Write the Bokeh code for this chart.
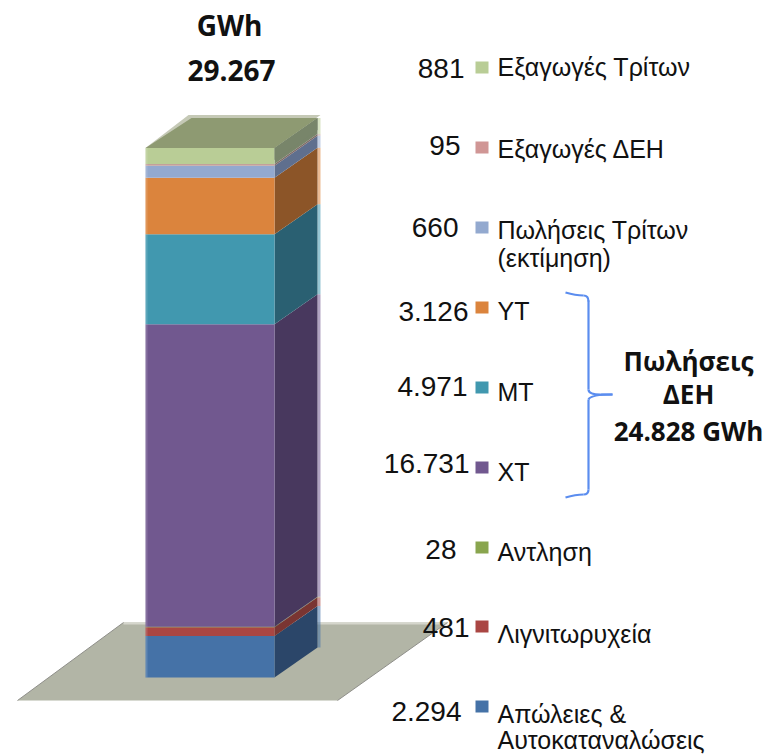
from bokeh.plotting import figure
from bokeh.models import Range1d
from bokeh.core.properties import value
from bokeh.embed import file_html
from bokeh.resources import INLINE

# --- data ---
series_values = [2294, 481, 28, 16731, 4971, 3126, 660, 95, 881]
series_names = ["Απώλειες & Αυτοκαταναλώσεις", "Λιγνιτωρυχεία", "Αντληση", "ΧΤ", "ΜΤ", "ΥΤ",
                "Πωλήσεις Τρίτων (εκτίμηση)", "Εξαγωγές ΔΕΗ", "Εξαγωγές Τρίτων"]
value_labels = ["2.294", "481", "28", "16.731", "4.971", "3.126", "660", "95", "881"]
total_label = "29.267"
unit_label = "GWh"
group_lines = ["Πωλήσεις", "ΔΕΗ", "24.828 GWh"]

# --- styling and layout (page pixels) ---
front_colors = ["#4572a7", "#aa4643", "#89a54e", "#71588f", "#4198af", "#db843d", "#93a9cf", "#c3a09a", "#b9cd96"]
swatch_colors = ["#4572a7", "#aa4643", "#89a54e", "#71588f", "#4198af", "#db843d", "#93a9cf", "#d09695", "#b9cd96"]
side_colors = ["#2b4669", "#7a3532", "#5a6b36", "#48385e", "#2a6072", "#8c5528", "#5f6f8e", "#7f6a66", "#78856a"]
W, H = 765, 754
PX_LEFT, PX_TOP = 0, 0
BASE_PX, PX_PER_GWH = 677.0, 0.01809
BAR_L, BAR_R = 145, 274
DX, DY = 43, 30
BACK_L = 188

def y_gwh(px):
    return (BASE_PX - px) / PX_PER_GWH

p = figure(width=W, height=H, output_backend="svg", toolbar_location=None,
           x_range=Range1d(PX_LEFT, PX_LEFT + W),
           y_range=Range1d(y_gwh(PX_TOP + H), y_gwh(PX_TOP)),
           min_border=0, outline_line_color=None, background_fill_color="white")
p.xaxis.visible = False
p.yaxis.visible = False
p.grid.visible = False
p.extra_y_ranges = {"px": Range1d(PX_TOP + H, PX_TOP)}

# floor
p.patch([17, 123, 447, 337], [700, 622, 622, 700], y_range_name="px", fill_color="#b2b5a6", line_color=None)
p.line([123, 447], [623, 623], y_range_name="px", line_color="#d5d6cc", line_width=2)
p.line([17, 123], [700, 622], y_range_name="px", line_color="#8f8f8a", line_width=1)
p.line([337, 447], [700, 622], y_range_name="px", line_color="#8f8f8a", line_width=1)

# stacked column
dy = DY / PX_PER_GWH
bottom = 0.0
for v, fc, sc in zip(series_values, front_colors, side_colors):
    top = bottom + v
    p.patch([BAR_R + DX, BAR_R + DX + 3, BAR_R + DX + 3, BAR_R + DX], [bottom + dy, bottom + dy, top + dy, top + dy],
            fill_color=fc, fill_alpha=0.55, line_color=None)
    p.patch([BAR_R, BAR_R + DX, BAR_R + DX, BAR_R], [bottom, bottom + dy, top + dy, top],
            fill_color=sc, line_color=None)
    p.quad(left=BAR_L, right=BAR_R, bottom=bottom, top=top, fill_color=fc, line_color=None)
    p.quad(left=BAR_L, right=BAR_L + 2, bottom=bottom, top=top, fill_color="white", fill_alpha=0.15, line_color=None)
    bottom = top

# column top
p.patch([BAR_L, BAR_R, BAR_R + DX + 3, BACK_L], [bottom, bottom, bottom + dy + 3 / PX_PER_GWH, bottom + dy + 3 / PX_PER_GWH],
        fill_color="#c5c9b6", line_color=None)
p.patch([BAR_L, BAR_R, BAR_R + DX, BACK_L + 3], [bottom, bottom, bottom + dy, bottom + dy],
        fill_color="#8e9a72", line_color=None)
p.patch([BAR_R, BAR_R + DX, BAR_R + DX, BAR_R], [bottom, bottom + dy, bottom + dy - 12 / PX_PER_GWH, bottom - 12 / PX_PER_GWH],
        fill_color="#78856a", line_color=None)

# legend
swatch_y = [706, 626, 547, 467, 387, 307, 227, 147, 67]
p.rect(x=[481.5] * 9, y=swatch_y, width=13, height=12, y_range_name="px", fill_color=swatch_colors, line_color=None)

NUM_FONT = value("Liberation Sans")
num_right = [461, 469, 456, 469, 467, 468, 458, 460, 464]
num_y = [711, 627, 549, 463, 386, 311, 227, 145, 68]
p.text(x=num_right, y=num_y, text=value_labels, y_range_name="px", text_font=NUM_FONT, text_font_size="28px",
       text_align="right", text_baseline="middle", text_color="#111111")

legend_lines = ["Απώλειες &", "Αυτοκαταναλώσεις", "Λιγνιτωρυχεία", "Αντληση", "ΧΤ", "ΜΤ", "ΥΤ",
                "Πωλήσεις Τρίτων", "(εκτίμηση)", "Εξαγωγές ΔΕΗ", "Εξαγωγές Τρίτων"]
legend_y = [713, 739, 633, 551, 471, 391, 310, 229, 257, 148, 66]
p.text(x=[497] * len(legend_lines), y=legend_y, text=legend_lines, y_range_name="px", text_font=NUM_FONT,
       text_font_size="25px", text_align="left", text_baseline="middle", text_color="#111111")

# bold titles
BOLD = value("Open Sans")
p.text(x=[229, 231], y=[24, 70], text=[unit_label, total_label], y_range_name="px", text_font=BOLD,
       text_font_size="28px", text_font_style="bold", text_align="center", text_baseline="middle", text_color="#111111")
p.text(x=[688, 688, 688], y=[360, 393, 430], text=group_lines, y_range_name="px", text_font=BOLD,
       text_font_size="26px", text_font_style="bold", text_align="center", text_baseline="middle", text_color="#111111")

# brace
BR = "#5b8def"
p.quadratic(x0=[565, 583, 588, 612], y0=[292, 295, 389, 394], x1=[583, 588, 600, 588], y1=[295, 301, 394, 399],
            cx=[575, 588, 588, 590], cy=[295, 295, 394, 394], y_range_name="px", line_color=BR, line_width=2.2)
p.line([588, 588], [300, 389], y_range_name="px", line_color=BR, line_width=2.2)
p.line([588, 588], [399, 489], y_range_name="px", line_color=BR, line_width=2.2)
p.line([600, 612], [394, 394], y_range_name="px", line_color=BR, line_width=2.2)
p.quadratic(x0=[588, 583], y0=[489, 494], x1=[583, 565], y1=[494, 497], cx=[588, 575], cy=[494, 494],
            y_range_name="px", line_color=BR, line_width=2.2)

open("out.html", "w").write(file_html(p, INLINE))
